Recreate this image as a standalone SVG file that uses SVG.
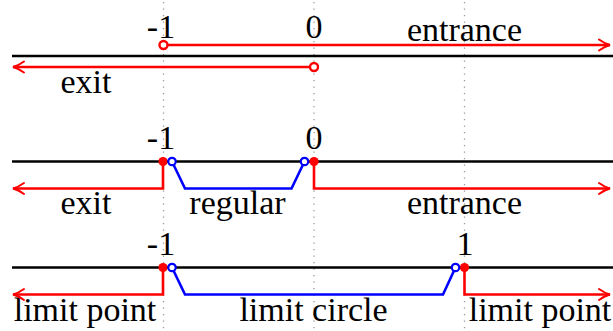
<svg xmlns="http://www.w3.org/2000/svg" width="613" height="331" viewBox="0 0 613 331">
<style>
.t text{font-family:"Liberation Serif","Times New Roman",serif;font-size:34px;fill:#000;text-anchor:middle}
.axis{stroke:#000;stroke-width:2.6;fill:none}
.red{stroke:#f00;stroke-width:2.6;fill:none}
.blue{stroke:#00f;stroke-width:2.6;fill:none;stroke-linejoin:miter}
.dot{stroke:#999;stroke-width:1.3;stroke-dasharray:1.3 5.2;fill:none}
.ored{fill:#fff;stroke:#f00;stroke-width:2.4}
.fred{fill:#f00;stroke:none}
.oblue{fill:#fff;stroke:#00f;stroke-width:2.2}
</style>
<defs>
<marker id="arr" markerUnits="userSpaceOnUse" viewBox="-13 -7 15 14" markerWidth="15" markerHeight="14" refX="0" refY="0" orient="auto" overflow="visible">
<path d="M -11 -5.5 Q -5 -1.2 0 0 Q -5 1.2 -11 5.5" fill="none" stroke="#f00" stroke-width="2" stroke-linecap="round"/>
</marker>
</defs>
<g id="guides">
<line class="dot" x1="163.5" y1="2" x2="163.5" y2="331"/>
<line class="dot" x1="314" y1="2" x2="314" y2="331"/>
<line class="dot" x1="464.5" y1="2" x2="464.5" y2="331"/>
</g>
<g id="row1" class="t">
<line class="axis" x1="12" y1="56" x2="613" y2="56"/>
<text x="161" y="38">-1</text>
<text x="314" y="38">0</text>
<text x="464.5" y="41">entrance</text>
<text x="86" y="93">exit</text>
</g>
<g id="row2" class="t">
<line class="axis" x1="12" y1="161.5" x2="613" y2="161.5"/>
<text x="161" y="149">-1</text>
<text x="314" y="149">0</text>
<text x="86" y="214">exit</text>
<text x="237.5" y="214">regular</text>
<text x="464.5" y="214">entrance</text>
</g>
<g id="row3" class="t">
<line class="axis" x1="12" y1="267.5" x2="613" y2="267.5"/>
<text x="161" y="255">-1</text>
<text x="465" y="255">1</text>
<text x="85" y="321">limit point</text>
<text x="313.5" y="321">limit circle</text>
<text x="540" y="321">limit point</text>
</g>
<g id="connectors">
<path class="red" d="M 163.5 45 H 610" marker-end="url(#arr)"/>
<path class="red" d="M 314 67 H 13" marker-end="url(#arr)"/>
<path class="red" d="M 163 161.5 V 188.5 H 13" marker-end="url(#arr)"/>
<path class="red" d="M 314 161.5 V 188.5 H 610" marker-end="url(#arr)"/>
<path class="blue" d="M 172 161.5 L 185 188.5 H 291.5 L 304.5 161.5"/>
<path class="red" d="M 163 267.5 V 294.5 H 13" marker-end="url(#arr)"/>
<path class="red" d="M 464.5 267.5 V 294.5 H 610" marker-end="url(#arr)"/>
<path class="blue" d="M 172 267.5 L 185 294.5 H 443 L 455.5 267.5"/>
</g>
<g id="points">
<circle class="ored" cx="163.5" cy="45" r="4"/>
<circle class="ored" cx="314" cy="67" r="4"/>
<circle class="fred" cx="163" cy="161.5" r="4.6"/>
<circle class="fred" cx="314" cy="161.5" r="4.6"/>
<circle class="oblue" cx="172" cy="161.5" r="3.7"/>
<circle class="oblue" cx="304.5" cy="161.5" r="3.7"/>
<circle class="fred" cx="163" cy="267.5" r="4.6"/>
<circle class="fred" cx="464.5" cy="267.5" r="4.6"/>
<circle class="oblue" cx="172" cy="267.5" r="3.7"/>
<circle class="oblue" cx="455.5" cy="267.5" r="3.7"/>
</g>
</svg>
